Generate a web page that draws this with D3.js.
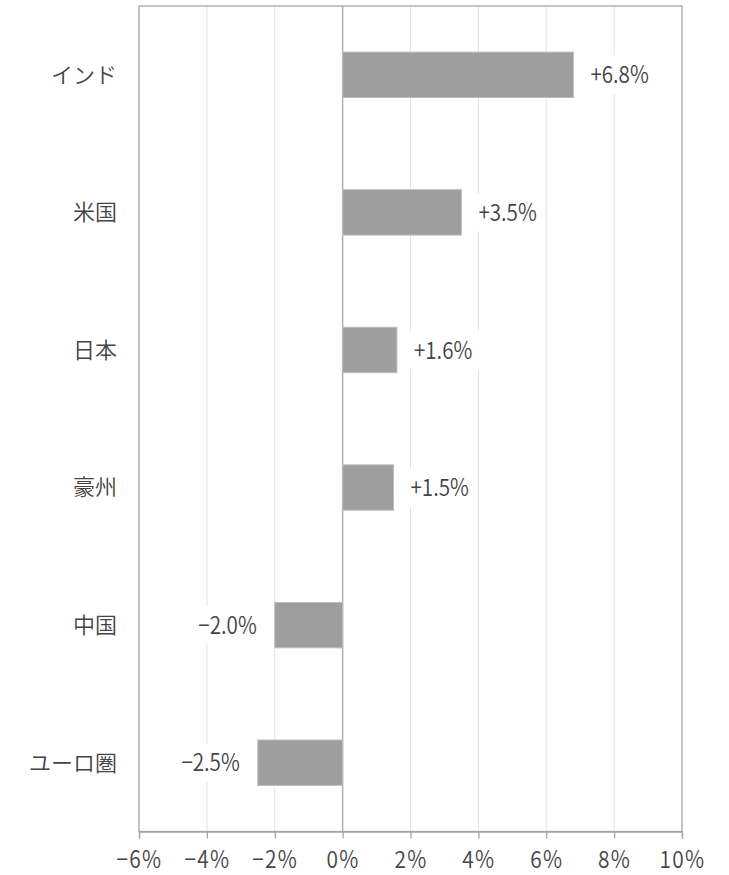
<!DOCTYPE html>
<html><head><meta charset="utf-8">
<script src="https://cdn.jsdelivr.net/npm/d3@7/dist/d3.min.js"></script>
<style>body{margin:0;background:#fff}</style>
</head><body>
<svg id="c" width="729" height="875"></svg>
<script>
const categories = ["インド","米国","日本","豪州","中国","ユーロ圏"];
const values = [6.8, 3.5, 1.6, 1.5, -2.0, -2.5];
const tickValues = [-6,-4,-2,0,2,4,6,8,10];

const FONT = "'Noto Sans CJK JP','Noto Sans',sans-serif";
const m = {left:139, right:682, top:6, bottom:831.5};
const svg = d3.select("#c");
const x = d3.scaleLinear().domain([-6,10]).range([m.left, m.right]);
const y = d3.scaleBand().domain(categories).range([m.top, m.bottom]).paddingInner(0.67).paddingOuter(0.335);

const fmtTick = v => (v<0 ? "\u2212" + Math.abs(v) : v) + "%";
const fmtVal = v => (v<0 ? "\u2212" : "+") + Math.abs(v).toFixed(1) + "%";

// gridlines
svg.append("g").selectAll("line").data(tickValues.filter(v=>v!==-6 && v!==10)).join("line")
  .attr("x1",d=>x(d)).attr("x2",d=>x(d)).attr("y1",m.top).attr("y2",m.bottom)
  .attr("stroke",d=>d===0?"#b0b0b0":"#e2e2e2").attr("stroke-width",d=>d===0?1.5:1);

// frame
svg.append("rect").attr("x",m.left).attr("y",m.top).attr("width",m.right-m.left).attr("height",m.bottom-m.top)
  .attr("fill","none").attr("stroke","#a5a5a5").attr("stroke-width",1.3);

// x axis
const xAxis = d3.axisBottom(x).tickValues(tickValues).tickSize(7).tickPadding(0).tickFormat(fmtTick);
const gx = svg.append("g").attr("transform",`translate(0,${m.bottom})`).call(xAxis);
gx.select(".domain").attr("stroke","#a5a5a5").attr("stroke-width",1.3);
gx.selectAll(".tick line").attr("stroke","#a5a5a5").attr("stroke-width",1.3);
gx.selectAll(".tick text").attr("fill","#444").attr("y",36.5).attr("dy",null)
  .attr("transform","scale(0.87,1)")
  .style("font-family",FONT).style("font-size","24px").style("font-weight",350).style("letter-spacing","1.5px");

// y labels
const yAxis = d3.axisLeft(y).tickSize(0).tickPadding(22);
const gy = svg.append("g").attr("transform",`translate(${m.left},0)`).call(yAxis);
gy.select(".domain").remove();
gy.selectAll(".tick text").attr("fill","#444").attr("dy","0.36em").style("font-family",FONT).style("font-size","22px").style("font-weight",350);

// bars
svg.append("g").selectAll("rect").data(values).join("rect")
  .attr("x",(d)=>x(Math.min(0,d))).attr("width",d=>Math.abs(x(d)-x(0)))
  .attr("y",(d,i)=>y(categories[i])).attr("height",y.bandwidth())
  .attr("fill","#9e9e9e").attr("stroke","#bdbdbd").attr("stroke-width",1);

// data labels with white boxes
const S = 0.86;
const lg = svg.append("g").selectAll("g").data(values).join("g");
lg.each(function(d,i){
  const g = d3.select(this);
  const cy = y(categories[i]) + y.bandwidth()/2;
  const pos = d>=0;
  const tx = pos ? x(d)+17 : x(d)-18;
  const t = g.append("text").attr("x",0).attr("y",0).attr("dy","0.36em")
    .attr("transform",`translate(${tx},${cy}) scale(${S},1)`)
    .attr("text-anchor",pos?"start":"end").attr("fill","#444")
    .style("font-family",FONT).style("font-size","24px").style("font-weight",350).text(fmtVal(d));
  const bb = t.node().getBBox();
  const w = bb.width*S;
  const bx = pos ? tx : tx - w;
  g.insert("rect","text").attr("x",bx-7).attr("y",cy-19).attr("width",w+14).attr("height",38).attr("fill","#fff");
});
</script>
</body></html>
